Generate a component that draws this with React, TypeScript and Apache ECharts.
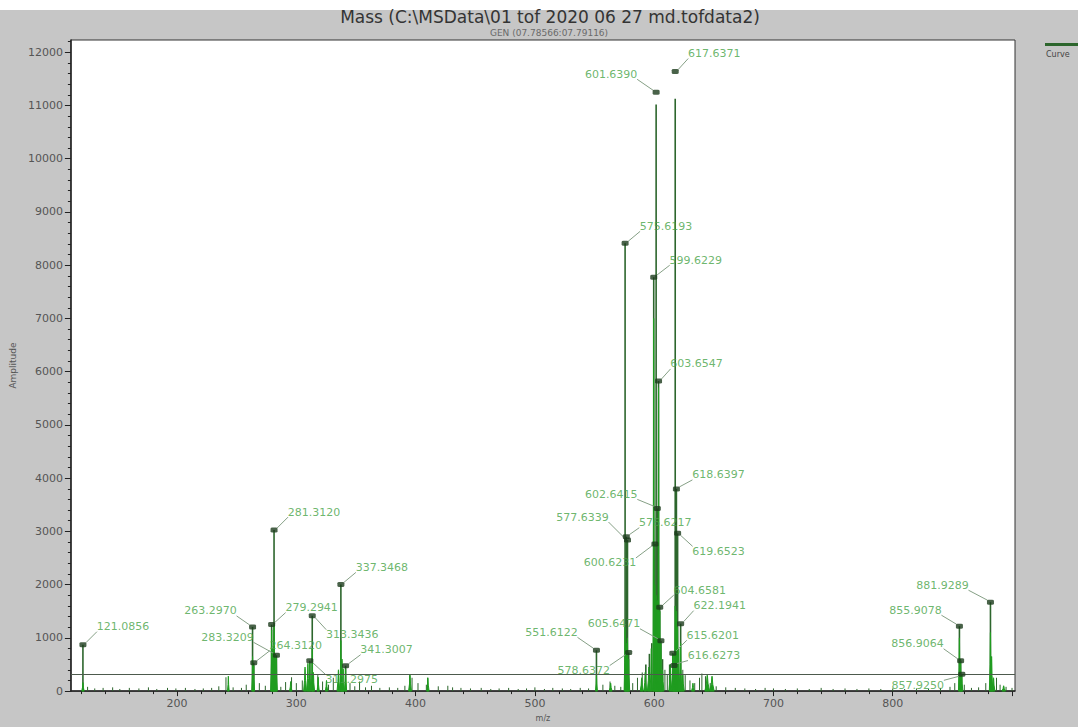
import React, { useEffect, useRef } from 'react';
import * as echarts from 'echarts';

const titleText = 'Mass (C:\\MSData\\01 tof 2020 06 27 md.tofdata2)';
const subtitleText = 'GEN (07.78566:07.79116)';
const seriesName = 'Curve';
const yAxisName = 'Amplitude';
const xAxisName = 'm/z';

// Labelled centroids (m/z, amplitude of the centroid marker)
const peakMz = [
  121.0856, 263.297, 264.312, 279.2941, 281.312, 283.3209, 311.2975, 313.3436, 337.3468, 341.3007,
  551.6122, 575.6193, 576.6217, 577.6339, 578.6372, 599.6229, 600.6231, 601.639, 602.6415, 603.6547,
  604.6581, 605.6471, 615.6201, 616.6273, 617.6371, 618.6397, 619.6523, 622.1941,
  855.9078, 856.9064, 857.925, 881.9289,
];
const peakHeight = [
  872, 1206, 532, 1249, 3024, 673, 570, 1416, 2004, 477,
  766, 8410, 2900, 2838, 724, 7774, 2764, 11248, 3432, 5826,
  1577, 946, 711, 480, 11638, 3798, 2963, 1267,
  1219, 570, 315, 1670,
];
// Height of the profile stick under each centroid
const stickHeight = [
  872, 1206, 532, 1249, 3024, 673, 570, 1416, 2004, 477,
  766, 8410, 2900, 2838, 724, 7774, 2764, 11020, 3432, 5826,
  1577, 946, 711, 480, 11126, 3798, 2963, 1267,
  1219, 570, 315, 1670,
];
// Where each centroid's label sits relative to its marker (px)
const labelOffset = [
  [40, -18], [-42, -16], [42, -17], [40, -17], [40, -18], [-49, -18], [42, 19], [40, 19], [41, -17], [41, -16],
  [-45, -18], [41, -17], [39, -14], [-45, -23], [-45, 18], [42, -17], [-45, 19], [-45, -18], [-46, -14], [38, -17],
  [40, -17], [-47, -17], [40, -18], [40, -10], [39, -18], [42, -14], [41, 18], [39, -18],
  [-44, -16], [-43, -17], [-44, 11], [-48, -17],
];

// Broader profile envelopes: [m/z, amplitude, half width in m/z]
const envelopes = [
  [121.1, 160, 1.0], [243.0, 280, 0.7], [263.3, 650, 0.7], [264.3, 480, 0.7], [279.3, 1150, 0.9],
  [280.3, 800, 1.0], [281.3, 1250, 0.8], [282.3, 700, 1.0], [283.3, 620, 0.8], [295.3, 180, 1.0],
  [307.3, 450, 1.2], [309.7, 520, 1.0], [311.3, 540, 0.9], [313.3, 800, 0.8], [314.3, 350, 1.0],
  [318.3, 260, 0.9], [325.3, 200, 1.0], [335.3, 400, 1.2], [337.3, 950, 0.8], [338.3, 600, 1.0],
  [339.3, 420, 1.0], [341.3, 420, 0.9], [395.3, 300, 1.2], [410.3, 250, 1.0], [551.6, 300, 0.8],
  [563.5, 150, 1.2], [575.6, 1200, 0.8], [576.6, 900, 0.9], [577.6, 1000, 0.9], [578.6, 600, 0.9],
  [589.5, 250, 1.2], [592.5, 350, 1.2], [595.5, 450, 1.2], [597.6, 800, 1.0], [599.6, 7000, 0.7],
  [600.6, 2000, 0.9], [601.6, 1800, 1.0], [602.6, 1700, 1.0], [603.65, 5700, 0.7], [604.7, 1500, 0.9],
  [605.6, 900, 1.0], [607.0, 400, 1.2], [613.6, 500, 1.2], [615.6, 700, 0.9], [616.6, 700, 0.9],
  [617.6, 1600, 0.9], [618.6, 1500, 0.9], [619.6, 1200, 0.9], [620.6, 800, 1.0], [622.2, 900, 0.9],
  [624.0, 300, 1.2], [632.5, 150, 1.2], [644.5, 300, 2.0], [648.5, 280, 1.8], [855.9, 1000, 0.8],
  [856.9, 600, 0.8], [857.9, 300, 0.9], [881.9, 1100, 0.9], [882.9, 650, 1.0], [884.5, 250, 1.2],
  [893.0, 100, 1.5],
];

// Small unlabelled spikes along the baseline: [m/z, amplitude]
const baselineNoise = [
  [125, 80], [131, 50], [138, 60], [146, 70], [152, 40], [160, 60], [168, 50], [176, 70], [183, 40], [192, 60],
  [199, 50], [207, 60], [215, 40], [222, 50], [229, 60], [235, 90], [241, 260], [247, 70], [254, 60], [258, 120],
  [269, 150], [274, 100], [287, 80], [291, 170], [296, 260], [300, 150], [305, 200], [318, 300], [322, 180], [327, 120],
  [331, 250], [345, 150], [349, 90], [353, 180], [358, 70], [363, 100], [370, 60], [378, 70], [385, 60], [391, 100],
  [395, 300], [397, 250], [402, 150], [409, 120], [410, 250], [419, 90], [427, 100], [431, 70], [438, 60], [446, 50],
  [455, 60], [463, 40], [470, 50], [478, 60], [486, 40], [493, 50], [500, 70], [508, 40], [515, 60], [523, 50],
  [530, 40], [538, 60], [545, 50], [557, 120], [563, 180], [567, 100], [572, 80], [582, 150], [586, 250], [590, 350],
  [593, 500], [596, 700], [598, 900], [607, 600], [609, 400], [611, 300], [613, 500], [624, 400], [626, 300], [630, 200],
  [634, 150], [638, 250], [640, 330], [643, 280], [647, 150], [652, 90], [660, 70], [668, 60], [676, 50], [685, 40],
  [693, 60], [700, 50], [710, 40], [720, 50], [730, 40], [740, 60], [750, 40], [760, 50], [770, 40], [780, 50],
  [790, 40], [800, 50], [810, 40], [820, 50], [830, 40], [840, 60], [848, 80], [852, 150], [860, 120], [866, 60],
  [872, 70], [878, 150], [887, 250], [890, 120], [895, 80], [900, 60],
];

// Noise threshold drawn across the spectrum
const thresholdLevel = 315;

// Axis ranges and ticks
const xMin = 111;
const xMax = 902.5;
const yMin = 0;
const yMax = 12230;
const xMajorTicks = [200, 300, 400, 500, 600, 700, 800, 900];
const xTickLabels = [200, 300, 400, 500, 600, 700, 800];
const xMinorTicks = [
  120, 140, 160, 180, 220, 240, 260, 280, 320, 340, 360, 380, 420, 440, 460, 480,
  520, 540, 560, 580, 620, 640, 660, 680, 720, 740, 760, 780, 820, 840, 860, 880,
];
const yMajorTicks = [0, 1000, 2000, 3000, 4000, 5000, 6000, 7000, 8000, 9000, 10000, 11000, 12000];
const yMinorTicks = [
  200, 400, 600, 800, 1200, 1400, 1600, 1800, 2200, 2400, 2600, 2800, 3200, 3400, 3600, 3800,
  4200, 4400, 4600, 4800, 5200, 5400, 5600, 5800, 6200, 6400, 6600, 6800, 7200, 7400, 7600, 7800,
  8200, 8400, 8600, 8800, 9200, 9400, 9600, 9800, 10200, 10400, 10600, 10800, 11200, 11400, 11600, 11800, 12200,
];

const FONT = 'DejaVu Sans';
const STICK = '#2d662d';
const FILL = '#1f9c1f';
const MARKER = '#1c3b1c';
const LABEL = '#47a347';
const LEADER = '#86a086';
const LABEL_HALF_W = 26;
const LABEL_HALF_H = 5;

export default function App() {
  const ref = useRef<HTMLDivElement>(null);

  useEffect(() => {
    if (!ref.current) return;
    const chart = echarts.init(ref.current, null, { renderer: 'svg' });

    const stickData = peakMz
      .map((m, i) => [m, stickHeight[i]])
      .concat(baselineNoise.map((p) => [p[0], p[1]]));
    const markerData = peakMz.map((m, i) => [m, peakHeight[i]]);

    const axisText = { fontFamily: FONT, fontSize: 11, color: '#555', formatter: (v: number) => String(v) };

    chart.setOption({
      animation: false,
      backgroundColor: '#c6c6c6',
      graphic: [
        { type: 'rect', left: 0, top: 0, shape: { width: 1078, height: 10 }, style: { fill: '#ffffff' }, silent: true },
        {
          type: 'text', x: 550, y: 17,
          style: { text: titleText, fill: '#343434', font: `17px "${FONT}"`, align: 'center', verticalAlign: 'middle', textAlign: 'center', textVerticalAlign: 'middle' },
        },
        {
          type: 'text', x: 549, y: 33,
          style: { text: subtitleText, fill: '#6a6a6a', font: `9px "${FONT}"`, align: 'center', verticalAlign: 'middle', textAlign: 'center', textVerticalAlign: 'middle' },
        },
        { type: 'rect', shape: { x: 1045, y: 43, width: 33, height: 3 }, style: { fill: STICK } },
        {
          type: 'text', x: 1046, y: 54,
          style: { text: seriesName, fill: '#444', font: `8px "${FONT}"`, align: 'left', verticalAlign: 'middle', textAlign: 'left', textVerticalAlign: 'middle' },
        },
      ],
      grid: {
        left: 64, right: 63, top: 40, bottom: 28,
        show: true, backgroundColor: '#ffffff', borderColor: '#333', borderWidth: 1,
      },
      xAxis: [
        {
          type: 'value', min: xMin, max: xMax, position: 'bottom',
          name: xAxisName, nameLocation: 'middle', nameGap: 17,
          nameTextStyle: { fontFamily: FONT, fontSize: 8, color: '#555' },
          axisLine: { show: true, lineStyle: { color: '#222', width: 1.5 } },
          axisTick: { show: true, customValues: xMajorTicks, length: 5, lineStyle: { color: '#222' } },
          axisLabel: { ...axisText, customValues: xTickLabels, margin: 7 },
          splitLine: { show: false },
        },
        {
          type: 'value', min: xMin, max: xMax, position: 'bottom',
          axisLine: { show: false },
          axisTick: { show: true, customValues: xMinorTicks, length: 3, lineStyle: { color: '#222' } },
          axisLabel: { show: false },
          splitLine: { show: false },
        },
      ],
      yAxis: [
        {
          type: 'value', min: yMin, max: yMax, position: 'left',
          name: yAxisName, nameLocation: 'middle', nameGap: 50, nameRotate: 90,
          nameTextStyle: { fontFamily: FONT, fontSize: 9, color: '#555' },
          axisLine: { show: true, lineStyle: { color: '#222', width: 1.5 } },
          axisTick: { show: true, customValues: yMajorTicks, length: 6, lineStyle: { color: '#222' } },
          axisLabel: { ...axisText, customValues: yMajorTicks, margin: 8 },
          splitLine: { show: false },
        },
        {
          type: 'value', min: yMin, max: yMax, position: 'left',
          axisLine: { show: false },
          axisTick: { show: true, customValues: yMinorTicks, length: 3, lineStyle: { color: '#222' } },
          axisLabel: { show: false },
          splitLine: { show: false },
        },
      ],
      series: [
        {
          name: seriesName,
          type: 'custom',
          z: 2,
          silent: true,
          encode: { x: 0, y: 1 },
          data: stickData,
          renderItem: (_params: any, api: any) => {
            const m = api.value(0);
            const h = api.value(1);
            const base = api.coord([m, 0]);
            const top = api.coord([m, h]);
            return {
              type: 'line',
              shape: { x1: base[0], y1: base[1], x2: top[0], y2: top[1] },
              style: { stroke: STICK, lineWidth: h > 400 ? 1.6 : 1 },
            };
          },
        },
        {
          name: seriesName,
          type: 'custom',
          z: 3,
          silent: true,
          encode: { x: 0, y: 1 },
          data: envelopes,
          renderItem: (_params: any, api: any) => {
            const m = api.value(0);
            const h = api.value(1);
            const w = api.value(2);
            const pts = [
              api.coord([m - w, 0]),
              api.coord([m - w * 0.35, h * 0.45]),
              api.coord([m - w * 0.08, h * 0.95]),
              api.coord([m, h]),
              api.coord([m + w * 0.08, h * 0.95]),
              api.coord([m + w * 0.35, h * 0.45]),
              api.coord([m + w, 0]),
            ];
            return {
              type: 'polygon',
              shape: { points: pts },
              style: { fill: FILL, stroke: FILL, lineWidth: 1 },
            };
          },
        },
        {
          // leader lines from each centroid marker to the near corner of its label
          name: seriesName,
          type: 'custom',
          z: 4,
          silent: true,
          encode: { x: 0, y: 1 },
          data: markerData,
          renderItem: (params: any, api: any) => {
            const p = api.coord([api.value(0), api.value(1)]);
            const o = labelOffset[params.dataIndex];
            const sx = Math.sign(o[0]);
            const sy = Math.sign(o[1]);
            const cx = p[0] + o[0];
            const cy = p[1] + o[1];
            return {
              type: 'line',
              shape: {
                x1: p[0] + sx * 3, y1: p[1] + sy * 2,
                x2: cx - sx * LABEL_HALF_W, y2: cy - sy * LABEL_HALF_H,
              },
              style: { stroke: LEADER, lineWidth: 1 },
            };
          },
        },
        {
          name: seriesName,
          type: 'scatter',
          z: 5,
          silent: true,
          symbol: 'roundRect',
          symbolSize: [7, 5],
          itemStyle: { color: MARKER },
          data: markerData,
          label: {
            show: true,
            position: 'inside',
            formatter: (p: any) => p.value[0].toFixed(4),
            fontFamily: FONT,
            fontSize: 11,
            color: LABEL,
          },
          labelLayout: (p: any) => {
            const o = labelOffset[p.dataIndex];
            return { dx: o[0], dy: o[1] };
          },
          markLine: {
            silent: true,
            symbol: 'none',
            label: { show: false },
            lineStyle: { color: '#4d5a4d', width: 1, type: 'solid' },
            data: [{ yAxis: thresholdLevel }],
          },
        },
      ],
    });

    return () => chart.dispose();
  }, []);

  return (
    <div
      ref={ref}
      style={{ position: 'fixed', left: 0, top: 0, width: 1078, height: 727 }}
    />
  );
}
